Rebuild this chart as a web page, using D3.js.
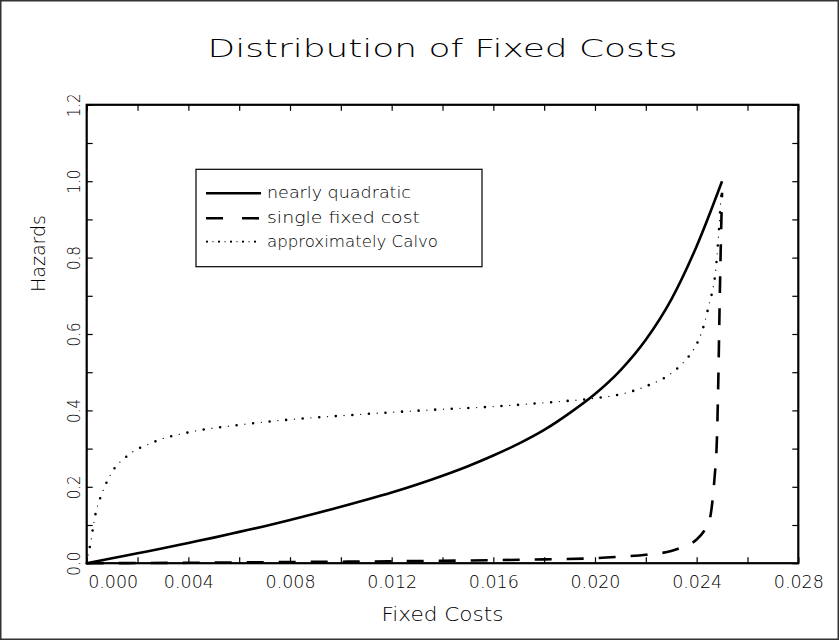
<!DOCTYPE html>
<html><head><meta charset="utf-8">
<script src="https://cdn.jsdelivr.net/npm/d3@7/dist/d3.min.js"></script>
<style>body{margin:0;background:#fff}svg{display:block}</style>
</head><body><svg id="c" width="839" height="640"></svg>
<script>
// ---- data ----
const seriesNames = ["nearly quadratic", "single fixed cost", "approximately Calvo"];
const xNearlyQuadratic = [0,0.001,0.002,0.003,0.004,0.005,0.006,0.007,0.008,0.009,0.010,0.011,0.012,0.013,0.014,0.015,0.016,0.017,0.018,0.019,0.020,0.021,0.022,0.023,0.024,0.025];
const yNearlyQuadratic = [0,0.013,0.026,0.039,0.053,0.067,0.082,0.097,0.113,0.13,0.148,0.166,0.185,0.206,0.229,0.254,0.282,0.313,0.349,0.393,0.443,0.505,0.585,0.69,0.83,1.0];
const xSingleFixed = [0,0.004,0.008,0.012,0.016,0.018,0.020,0.021,0.022,0.023,0.0235,0.024,0.0243,0.0245,0.0246,0.0247,0.0248,0.02485,0.0249,0.02495,0.025];
const ySingleFixed = [0,0.001,0.003,0.005,0.008,0.010,0.013,0.017,0.022,0.032,0.044,0.062,0.085,0.11,0.15,0.22,0.33,0.47,0.66,0.83,0.97];
const xCalvo = [0,0.00006,0.00013,0.00024,0.00035,0.00055,0.00068,0.001,0.0016,0.0026,0.0029,0.0039,0.0045,0.0055,0.0065,0.008,0.010,0.012,0.014,0.016,0.018,0.020,0.021,0.022,0.023,0.0235,0.0238,0.0240,0.02425,0.0245,0.02465,0.02475,0.02483,0.0249,0.02495,0.025];
const yCalvo = [0,0.024,0.045,0.089,0.13,0.174,0.196,0.239,0.281,0.316,0.324,0.341,0.349,0.358,0.366,0.376,0.386,0.395,0.403,0.41,0.42,0.432,0.442,0.463,0.497,0.527,0.551,0.573,0.615,0.68,0.722,0.766,0.83,0.894,0.95,0.97];
const xTickValues = [0,0.004,0.008,0.012,0.016,0.020,0.024,0.028];
const xTickLabels = ["0.000","0.004","0.008","0.012","0.016","0.020","0.024","0.028"];
const xMinorTicks = [0.002,0.006,0.010,0.014,0.018,0.022,0.026];
const yTickValues = [0,0.2,0.4,0.6,0.8,1.0,1.2];
const yTickLabels = ["0.0","0.2","0.4","0.6","0.8","1.0","1.2"];
const yMinorTicks = [0.1,0.3,0.5,0.7,0.9,1.1];
const titleText = "Distribution of Fixed Costs";
const xTitle = "Fixed Costs";
const yTitle = "Hazards";

// ---- layout ----
const W = 839, H = 640;
const L = 86.7, R = 798.3, T = 104.8, B = 563.2;
const FONT = "'DejaVu Sans', sans-serif";
const FW = 200;
const TXT = "#000";
const svg = d3.select("#c");
svg.append("rect").attr("width", W).attr("height", H).attr("fill", "#fff");
svg.append("rect").attr("x", 0.75).attr("y", 0.75).attr("width", W - 1.5).attr("height", H - 1.5)
  .attr("fill", "none").attr("stroke", "#333").attr("stroke-width", 1.5);

const x = d3.scaleLinear().domain([0, 0.028]).range([L, R]);
const y = d3.scaleLinear().domain([0, 1.2]).range([B, T]);

// ticks (inward) on all four sides
const allX = xTickValues.concat(xMinorTicks);
const allY = yTickValues.concat(yMinorTicks);
const tickLen = 6;
const axisStyle = g => { g.select(".domain").remove(); g.selectAll(".tick line").attr("stroke", "#000").attr("stroke-width", 1.2); };

svg.append("g").attr("transform", `translate(0,${B})`)
  .call(d3.axisBottom(x).tickValues(allX).tickSize(-tickLen).tickFormat(""))
  .call(axisStyle);
svg.append("g").attr("transform", `translate(0,${T})`)
  .call(d3.axisTop(x).tickValues(allX).tickSize(-tickLen).tickFormat(""))
  .call(axisStyle);
svg.append("g").attr("transform", `translate(${L},0)`)
  .call(d3.axisLeft(y).tickValues(allY).tickSize(-tickLen).tickFormat(""))
  .call(axisStyle);
svg.append("g").attr("transform", `translate(${R},0)`)
  .call(d3.axisRight(y).tickValues(allY).tickSize(-tickLen).tickFormat(""))
  .call(axisStyle);

// x tick labels
const xl = svg.append("g").attr("transform", `translate(0,${B})`)
  .call(d3.axisBottom(x).tickValues(xTickValues).tickSize(0).tickPadding(0)
    .tickFormat((d, i) => xTickLabels[i]));
xl.select(".domain").remove();
xl.selectAll(".tick text").attr("font-family", FONT).attr("font-weight", FW).attr("font-size", 17).attr("fill", TXT)
  .attr("dy", null).attr("y", 25)
  .attr("x", (d, i) => i === 0 ? 26 : 0)
  .attr("textLength", 50).attr("lengthAdjust", "spacingAndGlyphs");

// y tick labels (rotated)
const yl = svg.append("g").attr("transform", `translate(${L},0)`)
  .call(d3.axisLeft(y).tickValues(yTickValues).tickSize(0).tickPadding(0)
    .tickFormat((d, i) => yTickLabels[i]));
yl.select(".domain").remove();
yl.selectAll(".tick text").attr("font-family", FONT).attr("font-weight", FW).attr("font-size", 17).attr("fill", TXT)
  .attr("x", null).attr("dy", null).attr("text-anchor", "middle")
  .attr("transform", "translate(-7,0) rotate(-90)")
  .attr("textLength", 24).attr("lengthAdjust", "spacingAndGlyphs");

// frame
svg.append("rect").attr("x", L).attr("y", T).attr("width", R - L).attr("height", B - T)
  .attr("fill", "none").attr("stroke", "#000").attr("stroke-width", 2.2);

// lines
const line = d3.line().x(d => x(d[0])).y(d => y(d[1])).curve(d3.curveMonotoneX);
const zip = (a, b) => a.map((v, i) => [v, b[i]]);
const data = [zip(xNearlyQuadratic, yNearlyQuadratic), zip(xSingleFixed, ySingleFixed), zip(xCalvo, yCalvo)];
// solid
svg.append("path").attr("d", line(data[0])).attr("fill", "none").attr("stroke", "#000").attr("stroke-width", 2.6);
// dashed
svg.append("path").attr("d", line(data[1])).attr("fill", "none").attr("stroke", "#000").attr("stroke-width", 2.6)
  .attr("stroke-dasharray", "17,15");
// dotted: alternating large / small dots
svg.append("path").attr("d", line(data[2])).attr("fill", "none").attr("stroke", "#000").attr("stroke-width", 2.6)
  .attr("stroke-linecap", "round").attr("stroke-dasharray", "0,16.6");
svg.append("path").attr("d", line(data[2])).attr("fill", "none").attr("stroke", "#000").attr("stroke-width", 1.3)
  .attr("stroke-linecap", "round").attr("stroke-dasharray", "0,16.6").attr("stroke-dashoffset", -8.3);

// legend
const lg = svg.append("g");
lg.append("rect").attr("x", 196).attr("y", 169.3).attr("width", 286).attr("height", 97.4)
  .attr("fill", "#fff").attr("stroke", "#000").attr("stroke-width", 1.2);
const rows = [193.3, 218.3, 241.7];
const lx1 = 206, lx2 = 261;
lg.append("line").attr("x1", lx1).attr("x2", lx2).attr("y1", rows[0]).attr("y2", rows[0])
  .attr("stroke", "#000").attr("stroke-width", 2.6);
lg.append("line").attr("x1", lx1).attr("x2", lx2).attr("y1", rows[1]).attr("y2", rows[1])
  .attr("stroke", "#000").attr("stroke-width", 2.6).attr("stroke-dasharray", "17,19");
lg.append("line").attr("x1", lx1).attr("x2", lx2).attr("y1", rows[2]).attr("y2", rows[2])
  .attr("stroke", "#000").attr("stroke-width", 2.2).attr("stroke-linecap", "round").attr("stroke-dasharray", "0,12").attr("stroke-dashoffset", -1);
lg.append("line").attr("x1", lx1).attr("x2", lx2).attr("y1", rows[2]).attr("y2", rows[2])
  .attr("stroke", "#000").attr("stroke-width", 1.2).attr("stroke-linecap", "round").attr("stroke-dasharray", "0,12").attr("stroke-dashoffset", -7);
seriesNames.forEach((n, i) => {
  lg.append("text").attr("x", 267).attr("y", rows[i] + 5).text(n)
    .attr("font-family", FONT).attr("font-weight", FW).attr("font-size", 15).attr("fill", TXT)
    .attr("textLength", n.length * 9).attr("lengthAdjust", "spacingAndGlyphs");
});

// titles
svg.append("text").attr("x", (L + R) / 2).attr("y", 57).attr("text-anchor", "middle")
  .attr("font-family", FONT).attr("font-weight", FW).attr("font-size", 24).attr("fill", TXT)
  .attr("textLength", 470).attr("lengthAdjust", "spacingAndGlyphs").text(titleText);
svg.append("text").attr("x", (L + R) / 2).attr("y", 621).attr("text-anchor", "middle")
  .attr("font-family", FONT).attr("font-weight", FW).attr("font-size", 20).attr("fill", TXT)
  .attr("textLength", 122).attr("lengthAdjust", "spacingAndGlyphs").text(xTitle);
svg.append("text").attr("transform", "translate(45,292) rotate(-90)").attr("text-anchor", "start")
  .attr("font-family", FONT).attr("font-weight", FW).attr("font-size", 20).attr("fill", TXT)
  .attr("textLength", 77).attr("lengthAdjust", "spacingAndGlyphs").text(yTitle);
</script></body></html>
